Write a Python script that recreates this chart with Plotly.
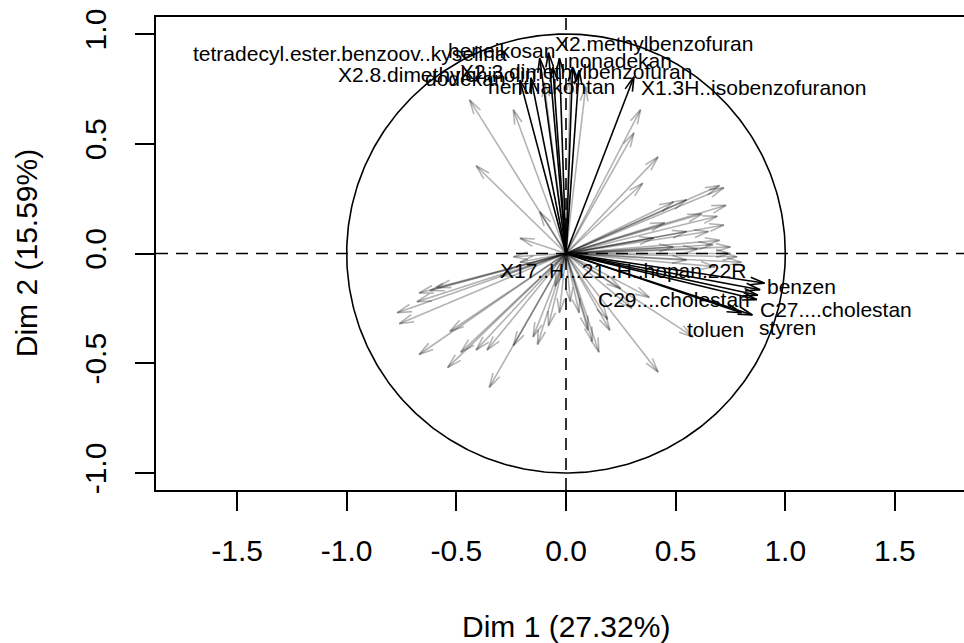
import numpy as np
import plotly.graph_objects as go

# Variables factor map (PCA): coordinates on Dim 1 / Dim 2
# Highlighted variables (drawn in black with labels)
sel_names = [
    "tetradecyl.ester.benzoov..kyselina",
    "heneikosan",
    "X2.methylbenzofuran",
    "nonadekan",
    "X2.3.dimethylbenzofuran",
    "hentriakontan",
    "dodekan",
    "X2.8.dimethylchinolin",
    "X1.3H..isobenzofuranon",
    "X17..H...21..H..hopan.22R",
    "benzen",
    "C29....cholestan",
    "C27....cholestan",
    "toluen",
    "styren",
]
sel_dim1 = [-0.12, -0.08, -0.03, 0.03, 0.06, -0.06, -0.16, -0.21, 0.31,
            0.885, 0.905, 0.87, 0.875, 0.80, 0.85]
sel_dim2 = [0.89, 0.915, 0.89, 0.85, 0.835, 0.85, 0.80, 0.79, 0.805,
            -0.165, -0.135, -0.21, -0.19, -0.27, -0.28]

# Remaining variables (drawn in translucent grey, unlabelled)
oth_dim1 = [
    -0.44, -0.24, -0.10, 0.02, 0.09, -0.41, -0.21, -0.12,
    0.34, 0.31, 0.42, 0.35, 0.72, 0.70, 0.73, 0.69, 0.65, 0.55, 0.55, 0.49,
    0.75, 0.67, 0.49, 0.78, 0.70, 0.75, 0.60, 0.80, 0.68, 0.55, 0.72, 0.62,
    0.45, 0.40,
    0.58, 0.42, 0.20, 0.19, 0.12, 0.10, 0.06, 0.38, 0.25, 0.02, 0.15, 0.30,
    -0.77, -0.76, -0.67, -0.68, -0.62, -0.59, -0.67, -0.54, -0.53, -0.48,
    -0.41, -0.36, -0.35, -0.24, -0.15, -0.13, -0.03, -0.30, -0.21, -0.24,
    -0.05, -0.08,
]
oth_dim2 = [
    0.70, 0.655, 0.78, 0.80, 0.76, 0.40, 0.07, 0.19,
    0.655, 0.55, 0.44, 0.32, 0.30, 0.31, 0.22, 0.17, 0.10, 0.10, 0.245, 0.235,
    0.03, 0.04, 0.03, -0.015, 0.06, 0.00, 0.02, -0.04, -0.06, -0.03, 0.13, 0.18,
    0.14, 0.07,
    -0.38, -0.54, -0.35, -0.30, -0.40, -0.35, -0.27, -0.20, -0.16, -0.22, -0.45, -0.25,
    -0.27, -0.32, -0.18, -0.22, -0.17, -0.155, -0.46, -0.52, -0.355, -0.45,
    -0.44, -0.44, -0.61, -0.42, -0.38, -0.415, -0.27, -0.105, -0.04, -0.015,
    -0.15, -0.33,
]

# Label anchor points (data units) for the highlighted variables
label_x = [-0.985, -0.296, 0.401, 0.246, 0.046, -0.068, -0.46, -0.588, 0.853,
           0.26, 1.072, 0.492, 1.231, 0.68, 1.008]
label_y = [0.910, 0.924, 0.956, 0.878, 0.828, 0.760, 0.796, 0.815, 0.755,
           -0.078, -0.151, -0.21, -0.256, -0.347, -0.338]

FONT = "Liberation Sans, Arial, sans-serif"
HEAD = 0.068
ANG = np.deg2rad(15)


def arrow_path(x, y):
    th = np.arctan2(y, x)
    xs = [0, x, None,
          x - HEAD * np.cos(th - ANG), x, x - HEAD * np.cos(th + ANG)]
    ys = [0, y, None,
          y - HEAD * np.sin(th - ANG), y, y - HEAD * np.sin(th + ANG)]
    return xs, ys


fig = go.Figure()

# unit circle
t = np.linspace(0, 2 * np.pi, 400)
fig.add_trace(go.Scatter(x=np.cos(t), y=np.sin(t), mode="lines",
                         line=dict(color="black", width=1.6),
                         hoverinfo="skip", showlegend=False))

for x, y in zip(oth_dim1, oth_dim2):
    xs, ys = arrow_path(x, y)
    fig.add_trace(go.Scatter(x=xs, y=ys, mode="lines",
                             line=dict(color="rgba(0,0,0,0.3)", width=1.6),
                             hoverinfo="skip", showlegend=False))

for x, y in zip(sel_dim1, sel_dim2):
    xs, ys = arrow_path(x, y)
    fig.add_trace(go.Scatter(x=xs, y=ys, mode="lines",
                             line=dict(color="black", width=1.6),
                             hoverinfo="skip", showlegend=False))

annotations = []
for name, lx, ly in zip(sel_names, label_x, label_y):
    annotations.append(dict(x=lx, y=ly, xref="x", yref="y", text=name,
                            showarrow=False, xanchor="center", yanchor="middle",
                            font=dict(family=FONT, size=21, color="black")))

annotations.append(dict(x=0, y=-0.288, xref="x", yref="paper",
                        text="Dim 1 (27.32%)", showarrow=False,
                        xanchor="center", yanchor="middle",
                        font=dict(family=FONT, size=30, color="black")))
annotations.append(dict(x=-0.160, y=0, xref="paper", yref="y",
                        text="Dim 2 (15.59%)", showarrow=False, textangle=-90,
                        xanchor="center", yanchor="middle",
                        font=dict(family=FONT, size=30, color="black")))

shapes = [
    dict(type="line", xref="paper", yref="y", x0=0, x1=1, y0=0, y1=0,
         line=dict(color="black", width=1.6, dash="12px,8px")),
    dict(type="line", xref="x", yref="paper", x0=0, x1=0, y0=0, y1=1,
         line=dict(color="black", width=1.6, dash="12px,8px")),
]

fig.update_layout(
    width=964, height=643,
    margin=dict(l=156, r=0, t=17, b=153),
    paper_bgcolor="white", plot_bgcolor="white",
    showlegend=False,
    annotations=annotations,
    shapes=shapes,
    font=dict(family=FONT, color="black"),
    xaxis=dict(range=[-1.8696, 1.8149], tickvals=[-1.5, -1.0, -0.5, 0.0, 0.5, 1.0, 1.5],
               ticktext=["-1.5", "-1.0", "-0.5", "0.0", "0.5", "1.0", "1.5"],
               showgrid=False, zeroline=False, showline=True, mirror=True,
               linecolor="black", linewidth=1.6, ticks="outside", ticklen=19,
               tickwidth=1.6, tickcolor="black", ticklabelstandoff=14,
               tickfont=dict(family=FONT, size=30, color="black")),
    yaxis=dict(range=[-1.0775, 1.0775], tickvals=[-1.0, -0.5, 0.0, 0.5, 1.0],
               ticktext=["-1.0", "-0.5", "0.0", "0.5", "1.0"],
               showgrid=False, zeroline=False, showline=True, mirror=False,
               linecolor="black", linewidth=1.6, ticks="outside", ticklen=19,
               tickwidth=1.6, tickcolor="black", tickangle=-90,
               ticklabelstandoff=17,
               tickfont=dict(family=FONT, size=30, color="black")),
)

fig.write_html("out.html")
